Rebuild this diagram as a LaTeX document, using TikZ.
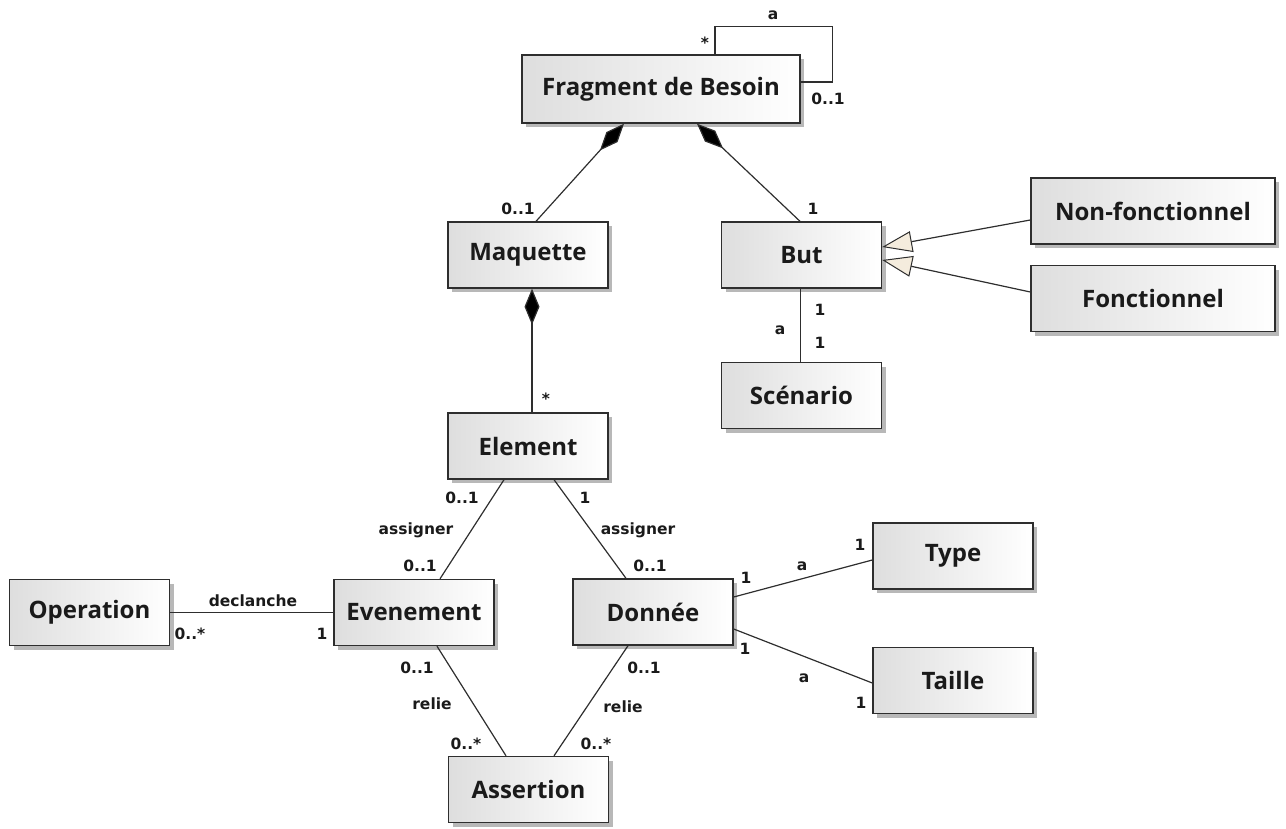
\documentclass[tikz,border=0pt]{standalone}
\usepackage{fontspec}
\setmainfont{Open Sans}
\newfontfamily\labelfont{DejaVu Sans}
\usetikzlibrary{arrows.meta,calc,shadows}
\definecolor{ink}{HTML}{1A1A1A}
\definecolor{edge}{HTML}{2E2E2E}
\definecolor{tri}{HTML}{F4ECDD}
\tikzset{
  cls/.style={draw=edge, line width=1.4pt, inner sep=0pt,
    minimum width=160pt, minimum height=66pt,
    left color=black!13, right color=white,
    drop shadow={shadow xshift=4pt, shadow yshift=-4pt, fill=black!28, opacity=1},
    font=\fontsize{24}{28}\selectfont\bfseries, text=ink},
  lbl/.style={font=\labelfont\fontsize{15.5}{18}\selectfont\bfseries, text=ink, inner sep=0pt},
  assoc/.style={draw=edge, line width=1.2pt},
  comp/.style={assoc, {Diamond[length=36pt, width=15pt, fill=black]}-},
  gen/.style={assoc, {Triangle[length=30pt, width=21pt, fill=tri, line width=1pt]}-}
}
\begin{document}
\begin{tikzpicture}[x=1pt, y=-1pt]
\useasboundingbox (0,0) rectangle (1286,828);

% classes
\node[cls, minimum width=278pt, minimum height=68pt] (frag) at (661,89) {Fragment de Besoin};
\node[cls] (maq)  at (528,255)   {Maquette};
\node[cls] (but)  at (801.5,255) {But};
\node[cls, minimum width=244pt] (nonf) at (1153,211)   {Non-fonctionnel};
\node[cls, minimum width=244pt] (fonc) at (1153,298.5) {Fonctionnel};
\node[cls] (scen) at (801.5,395.5) {Scénario};
\node[cls] (elem) at (528,446)     {Element};
\node[cls] (oper) at (89.5,612.5)  {Operation};
\node[cls] (even) at (414,612.5)   {Evenement};
\node[cls] (donn) at (653,612)     {Donnée};
\node[cls] (type) at (953,556)     {Type};
\node[cls] (tail) at (953,680.5)   {Taille};
\node[cls] (asse) at (528.5,789.5) {Assertion};

% self association of Fragment de Besoin
\draw[assoc] ($(frag.north)+(54,0)$) -- ++(0,-28) -| ($(frag.east)+(32,-7)$) -- ($(frag.east)+(0,-7)$);

% compositions
\draw[comp] ($(frag.south)+(-37,0)$) -- ($(maq.north)+(8,0)$);
\draw[comp] ($(frag.south)+(36,0)$) -- ($(but.north)+(-1.5,0)$);
\draw[comp] ($(maq.south)+(4,0)$) -- ($(elem.north)+(4,0)$);

% generalizations
\draw[gen] ($(but.east)+(0,-8)$) -- ($(nonf.west)+(0,9)$);
\draw[gen] ($(but.east)+(0,5)$) -- ($(fonc.west)+(0,-6.5)$);

% associations
\draw[assoc] ($(but.south)+(-1,0)$) -- ($(scen.north)+(-1,0)$);
\draw[assoc] ($(elem.south)+(-24,0)$) -- ($(even.north)+(26,0)$);
\draw[assoc] ($(elem.south)+(26,0)$) -- ($(donn.north)+(-27,0)$);
\draw[assoc] (oper.east) -- (even.west);
\draw[assoc] ($(even.south)+(23,0)$) -- ($(asse.north)+(-22.5,0)$);
\draw[assoc] ($(donn.south)+(-25,0)$) -- ($(asse.north)+(25.5,0)$);
\draw[assoc] ($(donn.east)+(0,-15)$) -- ($(type.west)+(0,4)$);
\draw[assoc] ($(donn.east)+(0,17)$) -- ($(tail.west)+(0,2.5)$);

% role names and multiplicities
\node[lbl] (l1)  at (705,43)  {*};
\node[lbl] (l2)  at (773,15)  {a};
\node[lbl] (l3)  at (828,99)  {0..1};
\node[lbl] (l4)  at (518,209) {0..1};
\node[lbl] (l5)  at (813,209) {1};
\node[lbl] (l6)  at (546,399) {*};
\node[lbl] (l7)  at (820,310) {1};
\node[lbl] (l8)  at (780,330) {a};
\node[lbl] (l9)  at (820,343) {1};
\node[lbl] (l10) at (462,498) {0..1};
\node[lbl] (l11) at (416,530) {assigner};
\node[lbl] (l12) at (420,566) {0..1};
\node[lbl] (l13) at (585,498) {1};
\node[lbl] (l14) at (638,530) {assigner};
\node[lbl] (l15) at (650,566) {0..1};
\node[lbl] (l16) at (253,601) {declanche};
\node[lbl] (l17) at (190,634) {0..*};
\node[lbl] (l18) at (322,634) {1};
\node[lbl] (l19) at (417,668) {0..1};
\node[lbl] (l20) at (432,704) {relie};
\node[lbl] (l21) at (466,744) {0..*};
\node[lbl] (l22) at (644,668) {0..1};
\node[lbl] (l23) at (623,707) {relie};
\node[lbl] (l24) at (596,744) {0..*};
\node[lbl] (l25) at (746,578) {1};
\node[lbl] (l26) at (802,566) {a};
\node[lbl] (l27) at (860,545) {1};
\node[lbl] (l28) at (745,649) {1};
\node[lbl] (l29) at (804,678) {a};
\node[lbl] (l30) at (861,703) {1};
\end{tikzpicture}
\end{document}
